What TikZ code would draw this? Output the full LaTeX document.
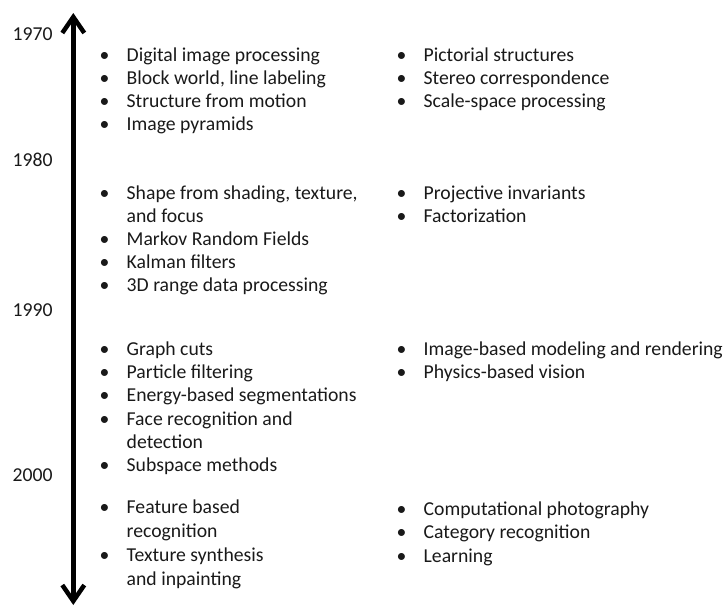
\documentclass[tikz,border=0pt]{standalone}
\usepackage{fontspec}
\setmainfont{Carlito}
\usetikzlibrary{arrows.meta}
\begin{document}
\begin{tikzpicture}[x=1pt,y=-1pt,
  txt/.style={inner sep=0pt, font=\fontsize{19.7}{23}\selectfont, text=black!90},
  itm/.style={txt, anchor=base west},
  bul/.style={txt, anchor=base},
  yr/.style={txt, anchor=base west},
  barb/.tip={Straight Barb[length=16pt,width=22pt]},
  timeline/.style={line width=4.5pt, barb-barb}]
\useasboundingbox (0,0) rectangle (725,606);

% time axis
\coordinate (top) at (73.3,13);
\coordinate (bot) at (73.3,605);
\draw[timeline] (bot) -- (top);

% decade labels
\node[yr] (y1970) at (12.5,40.5)  {1970};
\node[yr] (y1980) at (12.5,166.5) {1980};
\node[yr] (y1990) at (12.5,316)   {1990};
\node[yr] (y2000) at (12.5,481)   {2000};

% bulleted topics
\foreach \nm/\x/\y/\t in {
  c1a/126.5/61/Digital image processing,
  c1b/126.5/84/{Block world, line labeling},
  c1c/126.5/107/Structure from motion,
  c1d/126.5/130.5/Image pyramids,
  c1e/126.5/199/{Shape from shading, texture,},
  c1f/126.5/245/Markov Random Fields,
  c1g/126.5/268/Kalman filters,
  c1h/126.5/291/3D range data processing,
  c1i/126.5/355/Graph cuts,
  c1j/126.5/378/Particle filtering,
  c1k/126.5/401.5/Energy-based segmentations,
  c1l/126.5/425/Face recognition and,
  c1m/126.5/471.5/Subspace methods,
  c1n/126.5/513.5/Feature based,
  c1o/126.5/561.5/Texture synthesis,
  c2a/423.5/61/Pictorial structures,
  c2b/423.5/84/Stereo correspondence,
  c2c/423.5/107/Scale-space processing,
  c2d/423.5/199/Projective invariants,
  c2e/423.5/222/Factorization,
  c2f/423.5/355/Image-based modeling and rendering,
  c2g/423.5/378/Physics-based vision,
  c2h/423.5/515/Computational photography,
  c2i/423.5/538/Category recognition,
  c2j/423.5/562/Learning}
{
  \node[itm] (\nm) at (\x,\y) {\t};
  \node[bul] (\nm-b) at ([xshift=-22pt]\nm.base west) {•};
}

% wrapped second lines
\foreach \nm/\y/\t in {
  c1e2/222/and focus,
  c1l2/448/detection,
  c1n2/537/recognition,
  c1o2/585/and inpainting}
{
  \node[itm] (\nm) at (126.5,\y) {\t};
}
\end{tikzpicture}
\end{document}
